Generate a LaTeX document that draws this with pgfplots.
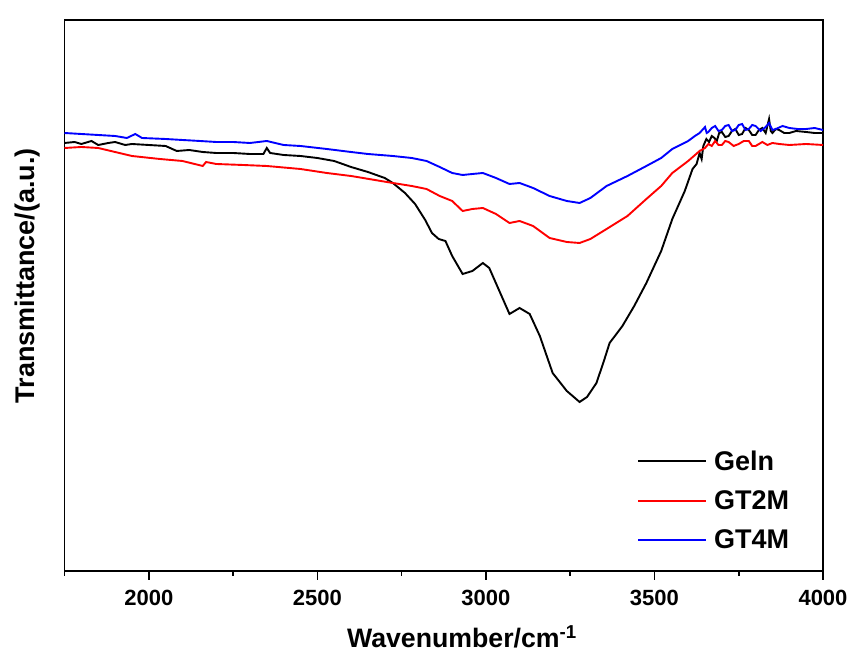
\documentclass[border=0pt]{standalone}
\usepackage{pgfplots}
\pgfplotsset{compat=1.18}
\usepackage{fontspec}
\setmainfont{Liberation Sans}
\usetikzlibrary{calc}
\begin{document}
\begin{tikzpicture}
\begin{axis}[
  scale only axis,
  width=758.5pt, height=551pt,
  xmin=1750, xmax=4000, ymin=-2, ymax=549,
  axis line style={line width=1.8pt},
  xtick={2000,2500,3000,3500,4000},
  minor xtick={1750,2250,2750,3250,3750},
  ytick=\empty,
  tick align=outside,
  xtick pos=bottom,
  major tick length=9pt, minor tick length=5pt,
  every tick/.style={line width=1.6pt, black},
  /pgf/number format/assume math mode=true,
  /pgf/number format/1000 sep={},
  xticklabel style={font=\fontsize{22}{24}\selectfont\bfseries, yshift=-7pt},
  xlabel={\bfseries Wavenumber/cm\textsuperscript{-1}},
  ylabel={\bfseries Transmittance/(a.u.)},
  xlabel style={font=\fontsize{26.7}{29}\selectfont, at={(axis description cs:0.524,-0.1397)}, anchor=base},
  ylabel style={font=\fontsize{27}{29}\selectfont, at={(axis description cs:-0.039,0.536)}, anchor=base},
  legend style={draw=none, fill=none, at={(axis description cs:0.751,0.226)}, anchor=north west,
    font=\fontsize{27}{29}\selectfont\bfseries, row sep=15pt,
    /tikz/every odd column/.append style={column sep=5pt}},
  legend cell align=left,
  legend image code/.code={\draw[#1, line width=1.8pt] (0pt,0pt) -- (68pt,0pt);},
]
\addplot[black, line width=1.9pt] coordinates {
(1750,426) (1780,427) (1800,425) (1830,428) (1850,424) (1880,426) (1900,427) (1930,424) (1950,425) (2000,424) (2050,423) (2083,418) (2120,419) (2160,417)
(2200,416) (2250,416) (2300,415) (2340,415) (2350,421) (2360,416) (2400,414) (2450,413) (2500,411) (2550,408)
(2600,402) (2650,397) (2700,391) (2724,386) (2760,376) (2790,365) (2820,349) (2840,336) (2860,330) (2880,328)
(2900,313) (2931,295) (2960,298) (2991,306) (3010,301) (3040,278) (3070,255) (3100,261) (3130,255) (3160,233)
(3198,196) (3240,178) (3278,167) (3300,172) (3328,186) (3350,208) (3367,226) (3405,243) (3440,263) (3476,286)
(3520,318) (3553,350) (3590,378) (3613,400) (3625,405) (3634,416) (3640,410) (3645,423) (3654,430) (3662,427) (3670,433)
(3678,431) (3685,428) (3692,436) (3700,437) (3710,432) (3720,433) (3730,438) (3740,440) (3750,434) (3760,435) (3770,441) (3780,439) (3790,434) (3800,434) (3810,439) (3820,441) (3830,436) (3840,450) (3845,438) (3850,436)
(3860,440) (3870,439) (3885,436) (3900,436) (3920,438) (3950,437) (3975,436) (4000,436)
};
\addlegendentry{Geln}
\addplot[red, line width=1.9pt] coordinates {
(1750,421) (1800,422) (1850,421) (1900,417) (1950,413) (2033,410) (2100,408) (2160,403) (2170,407) (2200,405)
(2280,404) (2350,403) (2450,400) (2528,396) (2600,393) (2724,386) (2780,383) (2824,380) (2863,373) (2900,368)
(2931,358) (2960,360) (2991,361) (3030,355) (3070,346) (3100,348) (3140,343) (3189,331) (3240,327) (3278,326)
(3310,330) (3358,340) (3420,353) (3476,370) (3520,383) (3553,396) (3600,408) (3634,418) (3650,421) (3660,425) (3670,423) (3680,428)
(3690,424) (3700,424) (3710,428) (3720,427) (3735,423) (3750,425) (3765,428) (3780,428) (3790,423) (3800,423) (3820,427) (3835,424) (3850,426) (3870,425) (3900,424) (3950,425) (4000,424)
};
\addlegendentry{GT2M}
\addplot[blue, line width=1.9pt] coordinates {
(1750,436) (1800,435) (1850,434) (1900,433) (1935,431) (1960,435) (1980,431) (2050,430) (2100,429) (2152,428)
(2200,427) (2250,427) (2300,426) (2350,428) (2400,424) (2450,423) (2528,420) (2600,417) (2650,415) (2724,413)
(2780,411) (2824,408) (2863,402) (2900,396) (2931,394) (2960,395) (2991,396) (3030,391) (3070,385) (3100,386)
(3140,381) (3189,373) (3240,368) (3278,366) (3310,371) (3358,383) (3420,393) (3476,403) (3520,411) (3553,420)
(3600,428) (3620,433) (3634,436) (3650,442) (3655,436) (3660,437) (3670,441) (3680,443) (3690,438) (3700,439) (3710,443) (3720,444) (3730,438) (3740,439) (3750,444) (3760,445)
(3770,439) (3780,440) (3790,444) (3800,443) (3815,438) (3830,442) (3840,446) (3850,439) (3860,440) (3880,443) (3900,441) (3925,440) (3950,440) (3975,441) (4000,439)
};
\addlegendentry{GT4M}
\end{axis}
\path ($(current axis.south west)+(-64.5pt,-89pt)$) rectangle ($(current axis.north east)+(29pt,20pt)$);
\end{tikzpicture}
\end{document}
